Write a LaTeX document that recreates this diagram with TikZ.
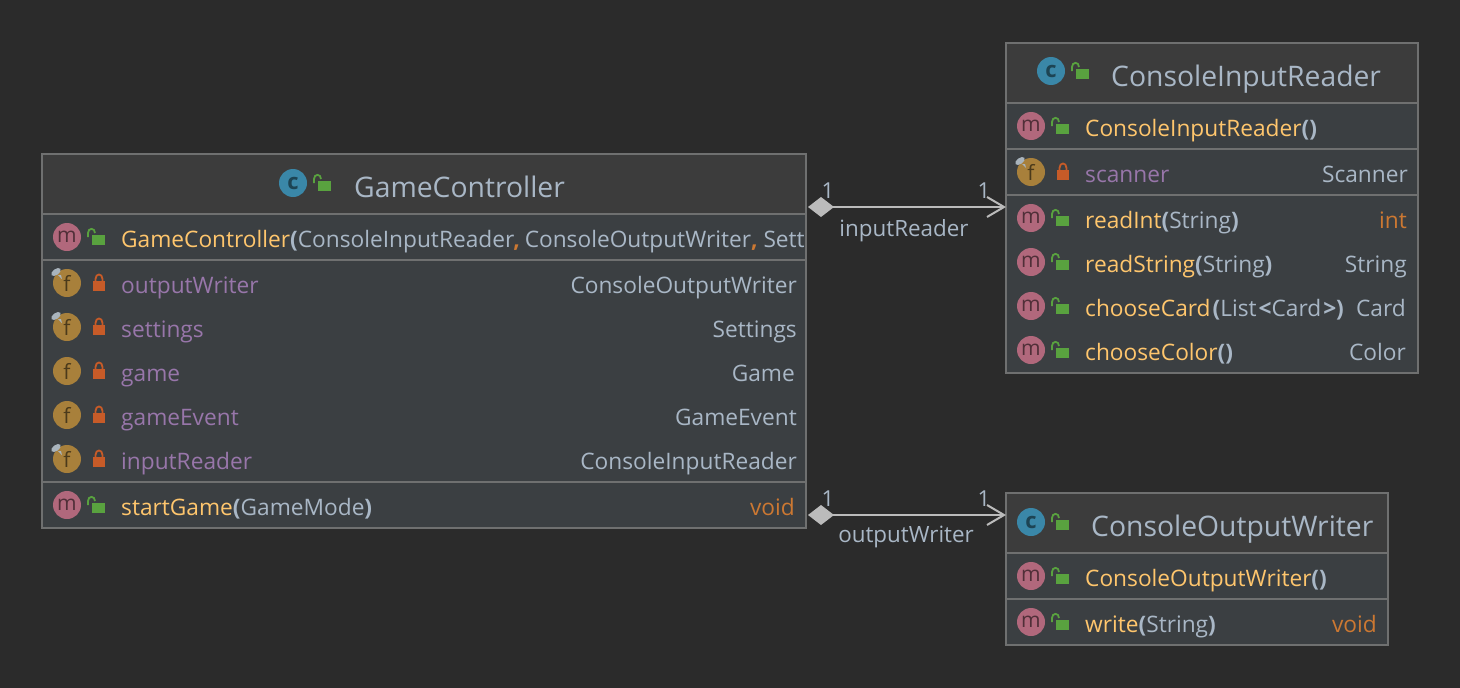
\documentclass[tikz,border=0pt]{standalone}
\usepackage{fontspec}
\setmainfont{Open Sans}
\usetikzlibrary{arrows.meta}
\definecolor{bgc}{HTML}{2B2B2B}
\definecolor{headc}{HTML}{3C3C3C}
\definecolor{bodyc}{HTML}{3B3F42}
\definecolor{edgec}{HTML}{6F7070}
\definecolor{txtc}{HTML}{A9B7C6}
\definecolor{yelc}{HTML}{FFC66D}
\definecolor{purc}{HTML}{9876AA}
\definecolor{orac}{HTML}{CC7832}
\definecolor{linkc}{HTML}{BBBBBB}
\definecolor{lockg}{HTML}{59A23F}
\definecolor{locko}{HTML}{C75B28}
\definecolor{mfill}{HTML}{B1687C}
\definecolor{ffill}{HTML}{A8803B}
\definecolor{cfill}{HTML}{3A87A8}
\definecolor{pinc}{HTML}{A9B4BD}
\newcommand{\rowfont}{\fontsize{22.7}{27}\selectfont}
\newcommand{\titlefont}{\fontsize{28.3}{32}\selectfont}
\newcommand{\bp}[1]{\textcolor{txtc}{\textbf{#1}}}
\newcommand{\tn}[1]{\textcolor{txtc}{#1}}
\newcommand{\yn}[1]{\textcolor{yelc}{#1}}
\newcommand{\cm}{\textcolor{orac}{\textbf{,}}}
% public badge / private badge relative to icon centre
\newcommand{\pubbadge}[2]{\begin{scope}[shift={(#1,#2)}]
 \fill[lockg] (25,-2) rectangle (38,8);
 \draw[lockg,line width=1.8pt] (21,0) -- (21,-4) .. controls (21,-9.5) and (28,-9.5) .. (28,-4);
\end{scope}}
\newcommand{\pribadge}[2]{\begin{scope}[shift={(#1,#2)}]
 \fill[locko] (26,-2) rectangle (38,8);
 \draw[locko,line width=1.8pt] (28.5,-2) -- (28.5,-4) .. controls (28.5,-10) and (35.5,-10) .. (35.5,-4) -- (35.5,-2);
\end{scope}}
\newcommand{\pinmark}[2]{\begin{scope}[shift={(#1,#2)}]
 \fill[pinc,rotate around={35:(-11,-11)}] (-11,-11) ellipse (5.5 and 3);
 \fill[pinc] (-9,-8) -- (-6,-8) -- (-5,-4) -- cycle;
\end{scope}}
% name, x, y
\newcommand{\methicon}[3]{\node[iconm] (#1) at (#2,#3) {m};\pubbadge{#2}{#3}}
\newcommand{\fieldicon}[4]{\node[iconf] (#1) at (#2,#3) {f};\pribadge{#2}{#3}\ifnum#4=1 \pinmark{#2}{#3}\fi}
\newcommand{\classicon}[3]{\node[iconc] (#1) at (#2,#3) {c};\pubbadge{#2}{#3}}
\tikzset{
 box/.style={draw=edgec,fill=bodyc,line width=2pt,inner sep=0pt,outer sep=0pt,anchor=north west},
 header/.style={draw=edgec,fill=headc,line width=2pt,inner sep=0pt,outer sep=0pt,anchor=north west},
 sep/.style={draw=edgec,line width=2pt},
 iconbase/.style={circle,inner sep=0pt,minimum size=28pt,font=\fontsize{21}{22}\selectfont},
 iconm/.style={iconbase,fill=mfill,text=mfill!45!black},
 iconf/.style={iconbase,fill=ffill,text=ffill!45!black},
 iconc/.style={iconbase,fill=cfill,text=cfill!50!black,font=\fontsize{22}{22}\selectfont\bfseries},
 rowl/.style={anchor=base west,inner sep=0pt,font=\rowfont},
 rowr/.style={anchor=base east,inner sep=0pt,font=\rowfont,text=txtc},
 fname/.style={rowl,text=purc},
 title/.style={anchor=base west,inner sep=0pt,font=\titlefont,text=txtc},
 multi/.style={anchor=base,inner sep=0pt,text=txtc,font=\fontsize{22}{24}\selectfont},
 lbl/.style={anchor=base,inner sep=0pt,text=txtc,font=\fontsize{22.4}{26}\selectfont},
 link/.style={draw=linkc,line width=2pt,{Diamond[length=26pt,width=20pt,fill=linkc]}-{Straight Barb[length=17pt,width=20pt,line width=2pt]}},
}
\begin{document}
\begin{tikzpicture}[x=1pt,y=-1pt]
\useasboundingbox (0,0) rectangle (1460,688);
\fill[bgc] (0,0) rectangle (1460,688);
% GameController
\node[box,minimum width=764pt,minimum height=374pt] (GC) at (42,154) {};
\node[header,minimum width=764pt,minimum height=60pt] (GCh) at (42,154) {};
\draw[sep] (42,260) -- (806,260);
\draw[sep] (42,482) -- (806,482);
\classicon{gci}{293}{183}
\node[title] (gct) at (354,197) {GameController};
\methicon{gc1}{67}{237}
\begin{scope}
\clip (100,215) rectangle (804,259);
\node[rowl] (gc1t) at (121,247) {\yn{GameController}\bp{(}\tn{ConsoleInputReader}\kern-1pt\cm\kern-1pt\ \tn{ConsoleOutputWriter}\cm\ \tn{Settings}};
\end{scope}
\fieldicon{gc2}{67}{283}{1}
\node[fname] (gc2t) at (121,293) {outputWriter};
\node[rowr] (gc2r) at (797,293) {ConsoleOutputWriter};
\fieldicon{gc3}{67}{327}{1}
\node[fname] (gc3t) at (121,337) {settings};
\node[rowr] (gc3r) at (797,337) {Settings};
\fieldicon{gc4}{67}{371}{0}
\node[fname] (gc4t) at (121,381) {game};
\node[rowr] (gc4r) at (795,381) {Game};
\fieldicon{gc5}{67}{415}{0}
\node[fname] (gc5t) at (121,425) {gameEvent};
\node[rowr] (gc5r) at (797,425) {GameEvent};
\fieldicon{gc6}{67}{459}{1}
\node[fname] (gc6t) at (121,469) {inputReader};
\node[rowr] (gc6r) at (797,469) {ConsoleInputReader};
\methicon{gc7}{67}{505}
\node[rowl] (gc7t) at (121,515) {\yn{startGame}\bp{(}\tn{GameMode}\bp{)}};
\node[rowr,text=orac] (gc7r) at (795,515) {void};
% ConsoleInputReader
\node[box,minimum width=412pt,minimum height=330pt] (CIR) at (1006,43) {};
\node[header,minimum width=412pt,minimum height=60pt] (CIRh) at (1006,43) {};
\draw[sep] (1006,149) -- (1418,149);
\draw[sep] (1006,195) -- (1418,195);
\classicon{cii}{1051}{71}
\node[title] (cit) at (1111,86) {ConsoleInputReader};
\methicon{ci1}{1031}{126}
\node[rowl] (ci1t) at (1085,136) {\yn{ConsoleInputReader}\bp{()}};
\fieldicon{ci2}{1031}{172}{1}
\node[fname] (ci2t) at (1085,182) {scanner};
\node[rowr] (ci2r) at (1408,182) {Scanner};
\methicon{ci3}{1031}{218}
\node[rowl] (ci3t) at (1085,228) {\yn{readInt}\bp{(}\tn{String}\bp{)}};
\node[rowr,text=orac] (ci3r) at (1407,228) {int};
\methicon{ci4}{1031}{262}
\node[rowl] (ci4t) at (1085,272) {\yn{readString}\bp{(}\tn{String}\bp{)}};
\node[rowr] (ci4r) at (1407,272) {String};
\methicon{ci5}{1031}{306}
\node[rowl] (ci5t) at (1085,316) {\yn{chooseCard}\kern2pt\bp{(}\tn{List}\kern2pt\bp{<}\tn{Card}\kern2pt\bp{>)}};
\node[rowr] (ci5r) at (1406,316) {Card};
\methicon{ci6}{1031}{350}
\node[rowl] (ci6t) at (1085,360) {\yn{chooseColor}\bp{()}};
\node[rowr] (ci6r) at (1406,360) {Color};
% ConsoleOutputWriter
\node[box,minimum width=382pt,minimum height=152pt] (COW) at (1006,493) {};
\node[header,minimum width=382pt,minimum height=60pt] (COWh) at (1006,493) {};
\draw[sep] (1006,599) -- (1388,599);
\classicon{coi}{1031}{522}
\node[title] (cot) at (1091,536) {ConsoleOutputWriter};
\methicon{co1}{1031}{576}
\node[rowl] (co1t) at (1085,586) {\yn{ConsoleOutputWriter}\bp{()}};
\methicon{co2}{1031}{622}
\node[rowl] (co2t) at (1085,632) {\yn{write}\bp{(}\tn{String}\bp{)}};
\node[rowr,text=orac] (co2r) at (1377,632) {void};
% connectors
\coordinate (a1) at (808,207);
\coordinate (a2) at (808,515);
\draw[link] (a1) -- (a1 -| CIR.west);
\draw[link] (a2) -- (a2 -| COW.west);
\node[multi] (m1) at (828,198) {1};
\node[multi] (m2) at (984,198) {1};
\node[multi] (m3) at (828,506) {1};
\node[multi] (m4) at (984,506) {1};
\node[lbl] (l1) at (904,236) {inputReader};
\node[lbl] (l2) at (906,542) {outputWriter};
\end{tikzpicture}
\end{document}
